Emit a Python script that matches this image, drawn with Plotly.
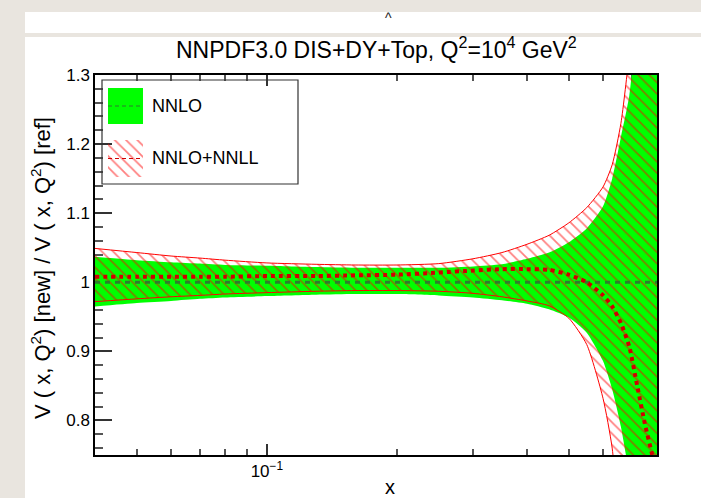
import numpy as np
import plotly.graph_objects as go

# ---------------- data ----------------
x_vals = [0.04, 0.05, 0.06, 0.07, 0.08, 0.1, 0.13, 0.16, 0.2, 0.25, 0.3, 0.35,
          0.4, 0.45, 0.5, 0.55, 0.6, 0.63, 0.66, 0.69, 0.72, 0.75, 0.78, 0.8]

nnlo_central = [1.0] * len(x_vals)
nnlo_upper = [1.037, 1.032, 1.029, 1.027, 1.025, 1.024, 1.022, 1.021, 1.021, 1.021, 1.023, 1.026,
              1.034, 1.043, 1.058, 1.078, 1.110, 1.150, 1.210, 1.270, 1.380, 1.450, 1.550, 1.600]
nnlo_lower = [0.965, 0.970, 0.973, 0.976, 0.978, 0.980, 0.982, 0.983, 0.983, 0.981, 0.978, 0.974,
              0.969, 0.961, 0.949, 0.927, 0.886, 0.845, 0.791, 0.720, 0.620, 0.500, 0.380, 0.300]

nnll_central = [1.008, 1.008, 1.008, 1.008, 1.008, 1.009, 1.009, 1.010, 1.011, 1.014, 1.017, 1.019,
                1.019, 1.018, 1.011, 1.000, 0.981, 0.965, 0.941, 0.907, 0.850, 0.795, 0.750, 0.720]
nnll_upper = [1.049, 1.043, 1.038, 1.035, 1.032, 1.028, 1.026, 1.025, 1.025, 1.027, 1.034, 1.043,
              1.055, 1.068, 1.086, 1.108, 1.138, 1.170, 1.230, 1.330, 1.450, 1.600, 1.750, 1.900]
nnll_lower = [0.972, 0.976, 0.979, 0.981, 0.983, 0.985, 0.987, 0.988, 0.988, 0.987, 0.984, 0.979,
              0.973, 0.966, 0.948, 0.910, 0.832, 0.760, 0.620, 0.530, 0.400, 0.250, 0.100, 0.000]

x_major_ticks = [0.1]
x_major_text = ["10<sup>\u22121</sup>"]
x_minor_ticks = [0.05, 0.06, 0.07, 0.08, 0.09, 0.2, 0.3, 0.4, 0.5, 0.6, 0.7]
y_ticks = [0.8, 0.9, 1.0, 1.1, 1.2, 1.3]
y_tick_text = ["0.8", "0.9", "1", "1.1", "1.2", "1.3"]

title_text = "NNPDF3.0 DIS+DY+Top, Q<sup>2</sup>=10<sup>4</sup> GeV<sup>2</sup>"
ytitle_text = "V ( x, Q<sup>2</sup>) [new] / V ( x, Q<sup>2</sup>) [ref]"
legend_labels = ["NNLO", "NNLO+NNLL"]

# ---------------- styles ----------------
FONT = "Liberation Sans, Arial, Helvetica, sans-serif"
GREEN = "#00ff00"
DKGREEN = "#2e7d2e"
RED = "#ff0000"
DKRED = "#d00000"
hatch = dict(shape="\\", fgcolor=RED, bgcolor="rgba(0,0,0,0)", size=8, solidity=0.22)

W, H = 701, 498
L, R, T, B = 95, 44, 75, 43
pw, ph = W - L - R, H - T - B


def px_x(p):
    return (p - L) / pw


def px_y(p):
    return (H - B - p) / ph


fig = go.Figure()

# NNLO band
fig.add_trace(go.Scatter(x=x_vals, y=nnlo_lower, mode="lines",
                         line=dict(width=0, color=GREEN, shape="spline", smoothing=0.6),
                         hoverinfo="skip", showlegend=False))
fig.add_trace(go.Scatter(x=x_vals, y=nnlo_upper, mode="lines", fill="tonexty", fillcolor=GREEN,
                         line=dict(width=0, color=GREEN, shape="spline", smoothing=0.6),
                         hoverinfo="skip", showlegend=False))
# NNLO+NNLL hatched band
fig.add_trace(go.Scatter(x=x_vals, y=nnll_lower, mode="lines",
                         line=dict(width=1, color=RED, shape="spline", smoothing=0.6),
                         hoverinfo="skip", showlegend=False))
fig.add_trace(go.Scatter(x=x_vals, y=nnll_upper, mode="lines", fill="tonexty",
                         fillcolor="rgba(0,0,0,0)", fillpattern=hatch,
                         line=dict(width=1, color=RED, shape="spline", smoothing=0.6),
                         hoverinfo="skip", showlegend=False))
# central values
fig.add_trace(go.Scatter(x=x_vals, y=nnlo_central, mode="lines",
                         line=dict(width=3, color=DKGREEN, dash="5px,5px"),
                         hoverinfo="skip", showlegend=False))
fig.add_trace(go.Scatter(x=x_vals, y=nnll_central, mode="lines",
                         line=dict(width=4, color=DKRED, dash="4px,4px", shape="spline", smoothing=0.6),
                         hoverinfo="skip", showlegend=False))

# legend swatches (separate hidden axes placed inside the legend box)
sw_x0, sw_x1 = px_x(108), px_x(143)
sw_yb, sw_yt = px_y(177), px_y(88)
fig.add_trace(go.Scatter(x=[0, 1, 1, 0, 0], y=[0.595, 0.595, 1, 1, 0.595], fill="toself",
                         fillcolor=GREEN, mode="lines", line=dict(width=0),
                         xaxis="x2", yaxis="y2", hoverinfo="skip", showlegend=False))
fig.add_trace(go.Scatter(x=[0, 1], y=[0.798, 0.798], mode="lines",
                         line=dict(width=1.2, color=DKGREEN, dash="4px,3px"),
                         xaxis="x2", yaxis="y2", hoverinfo="skip", showlegend=False))
fig.add_trace(go.Scatter(x=[0, 1, 1, 0, 0], y=[0, 0, 0.416, 0.416, 0], fill="toself",
                         fillcolor="rgba(0,0,0,0)", fillpattern=hatch, mode="lines", line=dict(width=0),
                         xaxis="x2", yaxis="y2", hoverinfo="skip", showlegend=False))
fig.add_trace(go.Scatter(x=[0, 1], y=[0.208, 0.208], mode="lines",
                         line=dict(width=1.2, color=DKRED, dash="4px,3px"),
                         xaxis="x2", yaxis="y2", hoverinfo="skip", showlegend=False))

shapes = [
    dict(type="rect", xref="paper", yref="paper", x0=px_x(25), x1=px_x(720), y0=px_y(520), y1=px_y(37),
         fillcolor="white", line=dict(width=0), layer="below"),
    dict(type="rect", xref="paper", yref="paper", x0=px_x(25), x1=px_x(720), y0=px_y(33), y1=px_y(12),
         fillcolor="white", line=dict(width=0), layer="below"),
    dict(type="rect", xref="paper", yref="paper", x0=px_x(102), x1=px_x(298), y0=px_y(184), y1=px_y(80),
         fillcolor="rgba(0,0,0,0)", line=dict(width=1.2, color="#333"), layer="above"),
]

annotations = [
    dict(text=title_text, x=0.5, y=px_y(48), xref="paper", yref="paper", showarrow=False,
         xanchor="center", yanchor="middle", font=dict(size=23, family=FONT, color="black")),
    dict(text="^", x=px_x(388), y=px_y(18), xref="paper", yref="paper", showarrow=False,
         xanchor="center", yanchor="middle", font=dict(size=14, family=FONT, color="#222")),
    dict(text=ytitle_text, x=px_x(41), y=px_y(268), xref="paper", yref="paper", showarrow=False,
         textangle=-90, xanchor="center", yanchor="middle", font=dict(size=22, family=FONT, color="black")),
    dict(text="x", x=px_x(390), y=px_y(487), xref="paper", yref="paper", showarrow=False,
         xanchor="center", yanchor="middle", font=dict(size=20, family=FONT, color="black")),
    dict(text=legend_labels[0], x=px_x(150), y=px_y(106), xref="paper", yref="paper", showarrow=False,
         xanchor="left", yanchor="middle", font=dict(size=18, family=FONT, color="black")),
    dict(text=legend_labels[1], x=px_x(150), y=px_y(158), xref="paper", yref="paper", showarrow=False,
         xanchor="left", yanchor="middle", font=dict(size=18, family=FONT, color="black")),
]

fig.update_layout(
    width=W, height=H,
    margin=dict(l=L, r=R, t=T, b=B, pad=0),
    paper_bgcolor="#e9e5df",
    plot_bgcolor="rgba(0,0,0,0)",
    showlegend=False,
    shapes=shapes,
    annotations=annotations,
    xaxis=dict(type="log", range=[np.log10(0.04), np.log10(0.8)],
               tickmode="array", tickvals=x_major_ticks, ticktext=x_major_text,
               ticks="inside", ticklen=11, tickwidth=1.5, tickcolor="#333",
               showline=True, linecolor="black", linewidth=1.5, mirror="ticks",
               showgrid=False, zeroline=False, layer="below traces",
               tickfont=dict(size=17, family=FONT, color="black"),
               minor=dict(tickmode="array", tickvals=x_minor_ticks, ticks="inside", ticklen=6,
                          tickwidth=1.5, tickcolor="#555", showgrid=False)),
    yaxis=dict(range=[0.75, 1.3], tickmode="array", tickvals=y_ticks, ticktext=y_tick_text,
               ticks="inside", ticklen=17, tickwidth=1.5, tickcolor="#333",
               showline=True, linecolor="black", linewidth=1.5, mirror=True,
               showgrid=False, zeroline=False, layer="below traces",
               tickfont=dict(size=17, family=FONT, color="black"),
               minor=dict(dtick=0.02, ticks="inside", ticklen=8, tickwidth=1.5,
                          tickcolor="#555", showgrid=False)),
    xaxis2=dict(domain=[sw_x0, sw_x1], range=[0, 1], visible=False, anchor="y2", fixedrange=True),
    yaxis2=dict(domain=[sw_yb, sw_yt], range=[0, 1], visible=False, anchor="x2", fixedrange=True),
)

fig.write_html("out.html")
